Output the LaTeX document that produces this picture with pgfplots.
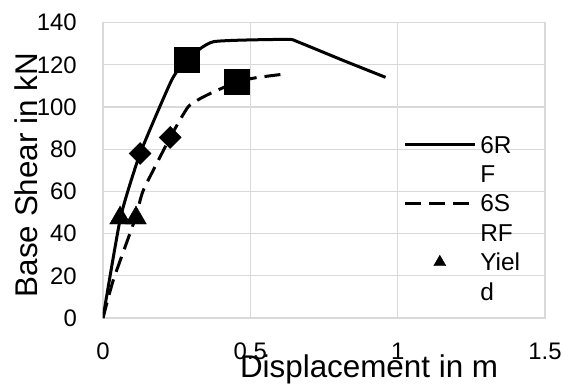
\documentclass[border=0pt]{standalone}
\usepackage{fontspec}
\setmainfont{Liberation Sans}
\usepackage{pgfplots}
\pgfplotsset{compat=1.18}
\definecolor{gridgray}{HTML}{D9D9D9}
\begin{document}
\begin{tikzpicture}
\useasboundingbox (-103bp,-67bp) rectangle (460bp,318bp);
\begin{axis}[
  scale only axis,
  width=442bp, height=295.3bp,
  xmin=0, xmax=1.5, ymin=0, ymax=140,
  xtick={0,0.5,1,1.5}, ytick={0,20,...,140},
  major tick length=0pt,
  grid=major,
  major grid style={draw=gridgray, line width=1.2bp},
  axis line style={draw=gridgray, line width=1.2bp},
  /pgf/number format/assume math mode=true,
  /pgf/number format/1000 sep={},
  tick label style={font=\fontsize{24}{28}\selectfont, inner sep=0pt},
  xticklabel style={anchor=north, yshift=-25bp},
  yticklabel style={anchor=east, xshift=-26bp},
  xlabel={Displacement in m},
  ylabel={Base Shear in kN},
  label style={font=\fontsize{31.5}{36}\selectfont, inner sep=0pt},
  xlabel style={at={(axis description cs:0.602,-0.1998)}, anchor=base},
  ylabel style={at={(axis description cs:-0.1493,0.484)}, anchor=base, rotate=0},
  legend cell align=left,
  legend image code/.code={\draw[mark repeat=2,mark phase=2,#1] plot coordinates {(0bp,0bp) (35bp,0bp) (70bp,0bp)};},
  legend style={at={(axis description cs:0.679,0.6166)}, anchor=north west,
    draw=none, fill=none, inner sep=0pt, row sep=12.4bp, column sep=4bp,
    nodes={inner sep=0pt, text height=17bp, text depth=0bp, font=\fontsize{24.5}{28}\selectfont}},
]
\addplot[black, line width=3bp, smooth, tension=0.3] coordinates {
  (0,0) (0.06,48) (0.126,78) (0.233,112.8) (0.285,122.6) (0.375,131) (0.625,132.1) (0.66,131) (0.817,122) (0.959,114.1)};
\addlegendentry{6R}
\addlegendimage{empty legend}
\addlegendentry{F}
\addplot[black, line width=3bp, dash pattern=on 16bp off 8bp, smooth, tension=0.3] coordinates {
  (0,0) (0.035,18) (0.11,47.4) (0.137,60.6) (0.228,85.6) (0.29,100.3) (0.353,105.7) (0.455,112) (0.523,114) (0.613,115.6)};
\addlegendentry{6S}
\addlegendimage{empty legend}
\addlegendentry{RF}
\addplot[forget plot, only marks, mark=triangle*, mark size=12bp, black] coordinates {(0.058,47.4) (0.112,47.4)};
\addlegendimage{only marks, mark=triangle*, mark size=7bp, black}
\addlegendentry{Yiel}
\addlegendimage{empty legend}
\addlegendentry{d}
\addplot[forget plot, only marks, mark=square*, mark size=7.8bp, mark options={rotate=45}, black] coordinates {(0.126,78) (0.228,85.6)};
\addplot[forget plot, only marks, mark=square*, mark size=12.5bp, black] coordinates {(0.285,122.6) (0.455,112)};
\end{axis}
\end{tikzpicture}
\end{document}
